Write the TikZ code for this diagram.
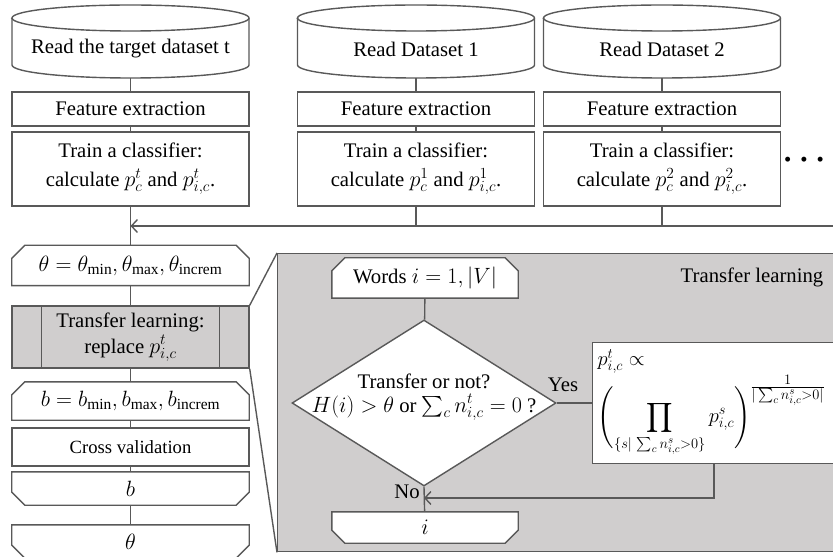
\RequirePackage{fix-cm}
\documentclass[tikz,border=0pt]{standalone}
\usepackage{amsmath}
\usepackage{fontspec}
\setmainfont{Liberation Serif}
\DeclareMathSizes{20.8}{22.2}{15.5}{11.5}
\DeclareMathSizes{20}{20.5}{14.5}{11}
\usetikzlibrary{shapes.geometric,arrows.meta}
\definecolor{ln}{RGB}{89,89,89}
\definecolor{gr}{RGB}{208,206,206}
\tikzset{
  every node/.style={font=\fontsize{20.8}{29}\selectfont, text=black},
  line/.style={draw=ln, line width=1.4bp},
  box/.style={line, fill=white, rectangle, inner sep=0pt, minimum width=237bp, align=center},
  plain/.style={rectangle, inner sep=0pt, align=center},
  arr/.style={line, -{Straight Barb[length=6bp,width=13bp]}},
}
\newcommand\ch{13bp}
\newcommand\loopnode[7]{%
  \path (#2,#3) node[rectangle, minimum width=#4bp, minimum height=#5bp, inner sep=0pt] (#1) {};
  \ifx t#6
    \draw[line, fill=white] ([xshift=\ch]#1.north west) -- ([xshift=-\ch]#1.north east) -- ([yshift=-\ch]#1.north east) -- (#1.south east) -- (#1.south west) -- ([yshift=-\ch]#1.north west) -- cycle;
  \else
    \draw[line, fill=white] (#1.north west) -- (#1.north east) -- ([yshift=\ch]#1.south east) -- ([xshift=-\ch]#1.south east) -- ([xshift=\ch]#1.south west) -- ([yshift=\ch]#1.south west) -- cycle;
  \fi
  \node[plain] (#1-t) at (#1.center) {#7};
}
\newcommand\cyl[3]{%
  \draw[line, fill=white] (#2-118.5,18) -- (#2-118.5,65) arc[start angle=180, end angle=360, x radius=118.5bp, y radius=13bp] -- (#2+118.5,18) arc[start angle=0, end angle=180, x radius=118.5bp, y radius=13bp] -- cycle;
  \draw[line] (#2-118.5,18) arc[start angle=180, end angle=360, x radius=118.5bp, y radius=13bp];
  \path (#2,41.5) node[rectangle, minimum width=237bp, minimum height=73bp, inner sep=0pt] (#1) {};
  \node[plain] (#1-t) at (#2,49) {#3};
}
\begin{document}
\begin{tikzpicture}[x=1bp, y=-1bp]
\useasboundingbox (0,0) rectangle (833,557);
\clip (0,0) rectangle (833,557);

% top three columns
\cyl{c1}{130.5}{Read the target dataset t}
\cyl{c2}{416}{Read Dataset 1}
\cyl{c3}{662}{Read Dataset 2}
\node[box, minimum height=34bp] (f1) at (130.5,109) {Feature extraction};
\node[box, minimum height=34bp] (f2) at (416,109) {Feature extraction};
\node[box, minimum height=34bp] (f3) at (662,109) {Feature extraction};
\node[box, minimum height=74bp] (tr1) at (130.5,169) {Train a classifier:\\ calculate $p^t_c$ and $p^t_{i,c}$.};
\node[box, minimum height=74bp] (tr2) at (416,169) {Train a classifier:\\ calculate $p^1_c$ and $p^1_{i,c}$.};
\node[box, minimum height=74bp] (tr3) at (662,169) {Train a classifier:\\ calculate $p^2_c$ and $p^2_{i,c}$.};
\node[plain] (dots) at (804,162) {\textbullet\hspace{9bp}\textbullet\hspace{9bp}\textbullet};
\foreach \i in {1,2,3} {
  \draw[line] (c\i) -- (f\i);
  \draw[line] (f\i) -- (tr\i);
}
\coordinate (busR) at (840,226);
\coordinate (busL) at (130.5,226);
\draw[line] (tr2) -- (tr2 |- busL);
\draw[line] (tr3) -- (tr3 |- busL);
\draw[arr] (busR) -- (busL);

% left column
\loopnode{th}{130.5}{265.5}{237}{40}{t}{$\theta=\theta_{\min},\theta_{\max},\theta_{\mathrm{increm}}$}
\node[box, fill=gr, minimum height=62bp, font=\fontsize{20.8}{26}\selectfont] (tl) at (130.5,337) {Transfer learning:\\ replace $p^t_{i,c}$};
\draw[line] ([xshift=30bp]tl.north west) -- ([xshift=30bp]tl.south west);
\draw[line] ([xshift=-30bp]tl.north east) -- ([xshift=-30bp]tl.south east);
\loopnode{bl}{130.5}{401}{237}{38}{t}{$b=b_{\min},b_{\max},b_{\mathrm{increm}}$}
\node[box, minimum height=38bp, font=\fontsize{18.7}{22}\selectfont] (cv) at (130.5,447) {Cross validation};
\loopnode{be}{130.5}{488.5}{237}{33}{b}{$b$}
\loopnode{te}{130.5}{541.5}{237}{33}{b}{$\theta$}
\draw[line] (tr1) -- (th);
\draw[line] (th) -- (tl);
\draw[line] (tl) -- (bl);
\draw[line] (bl) -- (cv);
\draw[line] (cv) -- (be);
\draw[line] (be) -- (te);

% transfer learning panel
\node[line, fill=gr, rectangle, anchor=north west, minimum width=600bp, minimum height=298bp, inner sep=0pt] (panel) at (277,253) {};
\draw[line] (tl.north east) -- (panel.north west);
\draw[line] (tl.south east) -- (panel.south west);
\node[plain] (pl) at (752,277) {Transfer learning};
\loopnode{wd}{425}{278}{186}{40}{t}{Words $i=1,|V|$}
\node[line, diamond, fill=white, minimum width=264bp, minimum height=166bp, inner sep=0pt] (dec) at (424,403) {};
\node[plain, font=\fontsize{20.8}{24}\selectfont] (dect) at (424,397) {Transfer or not?\\ $H(i)>\theta$ or $\sum_c n^t_{i,c}=0$ ?};
\node[line, fill=white, rectangle, anchor=north west, minimum width=260bp, minimum height=121bp, inner sep=3bp, text width=250bp, align=left, font=\fontsize{20}{23}\selectfont] (form) at (592,342)
  {$p^t_{i,c}\propto$\\[0bp]
   $\displaystyle\Biggl(\prod_{\{s|\,\sum_c n^s_{i,c}>0\}} p^s_{i,c}\Biggr)^{\textstyle\frac{1}{|\sum_c n^s_{i,c}>0|}}$};
\loopnode{ie}{425}{527.5}{186}{31}{b}{$i$}
\coordinate (ret) at (714,498);
\draw[line] (wd) -- (dec);
\draw[line] (dec.east) -- (form.west |- dec.east);
\draw[line] (dec.south) -- (ie);
\draw[arr] (form.south -| ret) -- (ret) -- (ret -| dec.south);
\node[plain] (yes) at (563,385) {Yes};
\node[plain] (no) at (407,492) {No};
\end{tikzpicture}
\end{document}
